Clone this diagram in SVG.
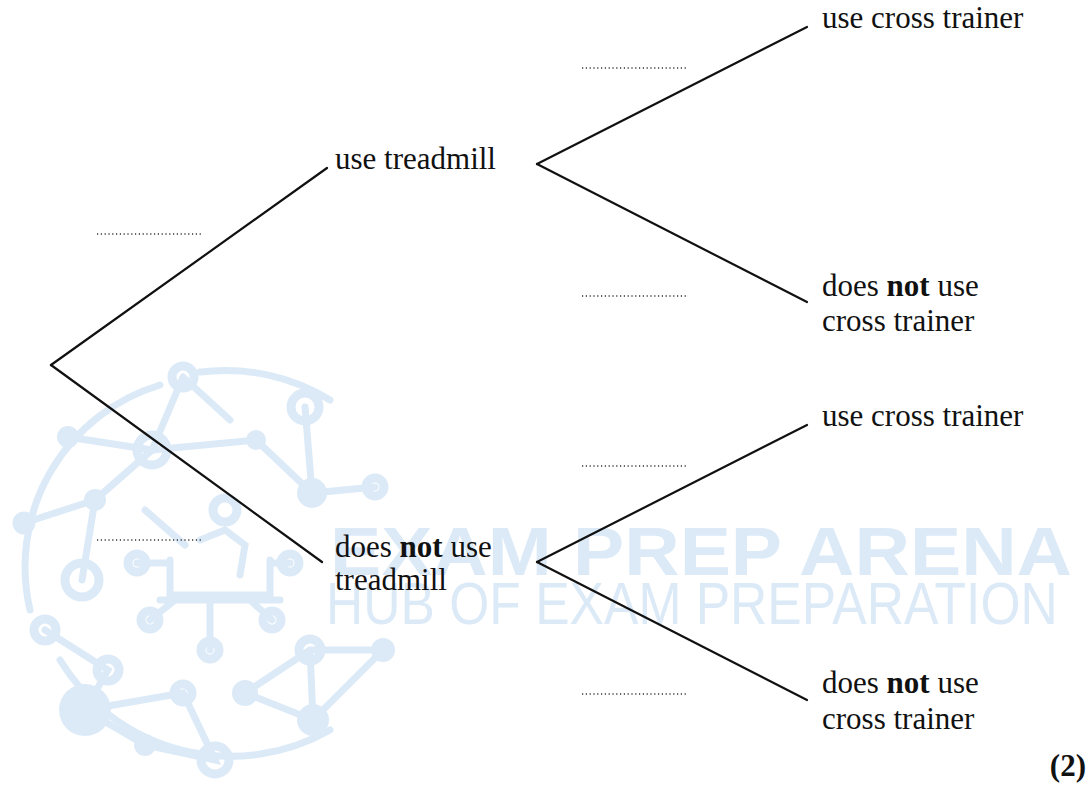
<svg xmlns="http://www.w3.org/2000/svg" width="1091" height="785" viewBox="0 0 1091 785">
<style>
.t{font-family:"Liberation Serif","Times New Roman",serif;font-size:31px;fill:#111}
.b{font-weight:bold}
.edge{stroke:#111;stroke-width:2.2;fill:none;stroke-linecap:round}
.blank{stroke:#333;stroke-width:1.3;stroke-dasharray:1.2 2.6;fill:none}
.wm{fill:#dceaf8}
.wml{stroke:#dceaf8;fill:none;stroke-width:7;stroke-linecap:round}
.wmr{stroke:#dceaf8;fill:none;stroke-width:9}
.wt{font-family:"Liberation Sans",Arial,sans-serif;fill:#dceaf8}
</style>
<rect width="1091" height="785" fill="#fff"/>
<g id="watermark">
<path class="wml" d="M30 610 A190 190 0 0 1 160 385"/>
<path class="wml" d="M200 372 A200 200 0 0 1 330 400"/>
<path class="wml" d="M60 660 A200 200 0 0 0 330 730"/>
<path class="wml" d="M183 377 L152 450 L68 437 M152 450 L256 440 L312 493 L375 487 M305 407 L312 493 M183 377 L230 420 M95 500 L24 523 M95 500 L152 450 M82 580 L95 500 M45 630 L108 670 L85 710 L183 693 L215 760 L145 745 L85 710 M245 693 L310 650 L383 650 L313 720 L245 693 M313 720 L310 650"/>
<circle class="wmr" cx="183" cy="377" r="11"/>
<circle class="wmr" cx="305" cy="407" r="14"/>
<circle class="wmr" cx="152" cy="450" r="15"/>
<circle class="wm" cx="68" cy="437" r="11"/>
<circle class="wm" cx="256" cy="440" r="10"/>
<circle class="wmr" cx="375" cy="487" r="9"/>
<circle class="wm" cx="312" cy="493" r="15"/>
<circle class="wm" cx="95" cy="500" r="11"/>
<circle class="wmr" cx="24" cy="523" r="7"/>
<circle class="wmr" cx="82" cy="580" r="17"/>
<circle class="wmr" cx="45" cy="630" r="11"/>
<circle class="wmr" cx="108" cy="670" r="11"/>
<circle class="wm" cx="85" cy="710" r="26"/>
<circle class="wmr" cx="183" cy="693" r="9"/>
<circle class="wm" cx="145" cy="745" r="11"/>
<circle class="wmr" cx="215" cy="760" r="14"/>
<circle class="wm" cx="245" cy="693" r="13"/>
<circle class="wm" cx="313" cy="720" r="16"/>
<circle class="wmr" cx="310" cy="650" r="11"/>
<circle class="wm" cx="383" cy="650" r="12"/>
<circle class="wmr" cx="225" cy="510" r="12"/>
<path class="wml" d="M170 560 L170 595 L270 595 L270 560 M160 600 L280 600 M210 600 L210 650 M150 620 L175 600 M272 620 L250 600 M137 563 L170 563 M270 563 L290 563 M200 540 L225 530 L245 545 L240 575 M145 510 L185 545" stroke-width="5"/>
<circle class="wmr" cx="137" cy="563" r="9" stroke-width="6"/>
<circle class="wmr" cx="290" cy="563" r="9" stroke-width="6"/>
<circle class="wmr" cx="150" cy="620" r="9" stroke-width="6"/>
<circle class="wmr" cx="210" cy="650" r="9" stroke-width="6"/>
<circle class="wmr" cx="272" cy="620" r="9" stroke-width="6"/>
<text class="wt" x="330" y="575" font-size="68" font-weight="bold" textLength="742" lengthAdjust="spacingAndGlyphs">EXAM PREP ARENA</text>
<text class="wt" transform="translate(326,624) scale(0.86,1)" x="0" y="0" font-size="60">HUB OF EXAM PREPARATION</text>
</g>
<g id="connectors">
<line class="edge" x1="51" y1="365" x2="327" y2="168"/>
<line class="edge" x1="51" y1="365" x2="322" y2="562"/>
<line class="edge" x1="537" y1="164" x2="807" y2="27"/>
<line class="edge" x1="537" y1="164" x2="807" y2="302"/>
<line class="edge" x1="537" y1="562" x2="807" y2="425"/>
<line class="edge" x1="537" y1="562" x2="807" y2="700"/>
</g>
<g id="blanks">
<line class="blank" x1="97" y1="234" x2="202" y2="234"/>
<line class="blank" x1="97" y1="540" x2="202" y2="540"/>
<line class="blank" x1="582" y1="68" x2="688" y2="68"/>
<line class="blank" x1="582" y1="296" x2="688" y2="296"/>
<line class="blank" x1="582" y1="466" x2="688" y2="466"/>
<line class="blank" x1="582" y1="694" x2="688" y2="694"/>
</g>
<g id="node-root"><circle cx="51" cy="365" r="0" fill="none"/></g>
<g id="node-treadmill"><text class="t" x="335" y="169">use treadmill</text></g>
<g id="node-no-treadmill"><text class="t" x="335" y="557">does <tspan class="b">not</tspan> use</text><text class="t" x="335" y="590">treadmill</text></g>
<g id="node-t-cross"><text class="t" x="822" y="28">use cross trainer</text></g>
<g id="node-t-no-cross"><text class="t" x="822" y="296">does <tspan class="b">not</tspan> use</text><text class="t" x="822" y="331">cross trainer</text></g>
<g id="node-n-cross"><text class="t" x="822" y="426">use cross trainer</text></g>
<g id="node-n-no-cross"><text class="t" x="822" y="693">does <tspan class="b">not</tspan> use</text><text class="t" x="822" y="729">cross trainer</text></g>
<text class="t b" x="1086" y="776" font-size="24" text-anchor="end">(2)</text>
</svg>
